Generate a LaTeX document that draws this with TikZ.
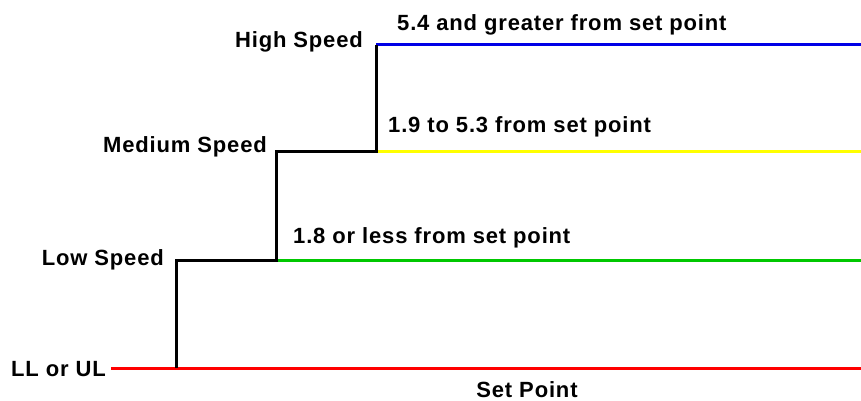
\documentclass[tikz,border=0pt]{standalone}
\usepackage{fontspec}
\setmainfont{Liberation Sans}[LetterSpace=3.8]
\begin{document}
\begin{tikzpicture}[x=1pt,y=-1pt,
  lbl/.style={inner sep=0pt,font=\fontsize{22}{26}\selectfont\bfseries},
  stair/.style={line width=3pt,black},
  lvl/.style={line width=3pt}]
\useasboundingbox (0,0) rectangle (861,401);
\definecolor{lblue}{RGB}{0,0,230}
\definecolor{lyellow}{RGB}{255,255,0}
\definecolor{lgreen}{RGB}{0,200,0}
\definecolor{lred}{RGB}{255,0,0}
% corners
\coordinate (r0) at (111,368);
\coordinate (r1) at (176,368);
\coordinate (r2) at (861,368);
\coordinate (l1) at (176,260);
\coordinate (l2) at (276,260);
\coordinate (l3) at (861,260);
\coordinate (m1) at (276,151);
\coordinate (m2) at (376,151);
\coordinate (m3) at (861,151);
\coordinate (h1) at (376,45);
\coordinate (h2) at (861,45);
% level lines
\draw[lvl,lred] (r0) -- (r2);
\draw[lvl,lgreen] (l2) -- (l3);
\draw[lvl,lyellow] (m2) -- (m3);
\draw[lvl,lblue] (h1) -- (h2);
% staircase
\draw[stair] (r1) -- (l1) -- (l2) -- (m1) -- (m2) -- (h1);
% labels
\node[lbl,anchor=base east] (tll) at (106,376) {LL or UL};
\node[lbl,anchor=base east] (tlow) at (164,265) {Low Speed};
\node[lbl,anchor=base east] (tmed) at (267,152) {Medium Speed};
\node[lbl,anchor=base east] (thigh) at (363,48) {High Speed};
\node[lbl,anchor=base west] (t54) at (397,31) {5.4 and greater from set point};
\node[lbl,anchor=base west] (t19) at (388,132) {1.9 to 5.3 from set point};
\node[lbl,anchor=base west] (t18) at (293,243) {1.8 or less from set point};
\node[lbl,anchor=base] (tsp) at (527,397) {Set Point};
\end{tikzpicture}
\end{document}
